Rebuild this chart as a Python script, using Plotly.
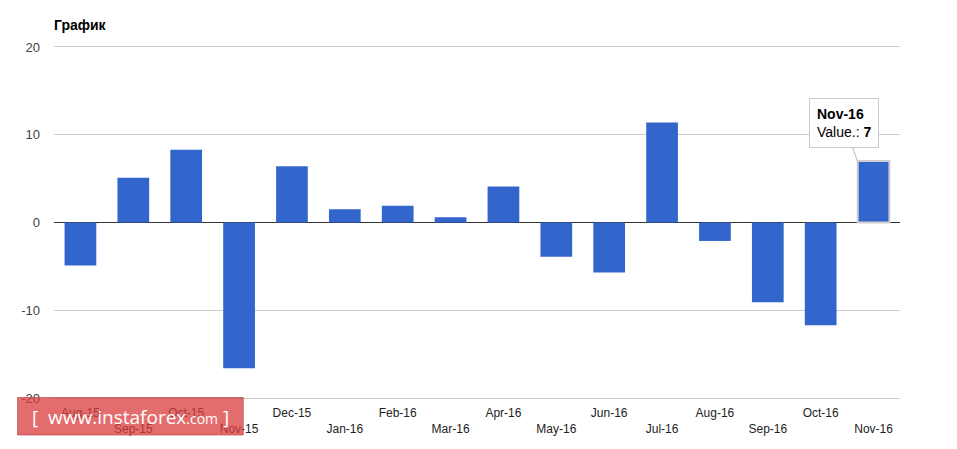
import plotly.graph_objects as go

categories = ["Aug-15", "Sep-15", "Oct-15", "Nov-15", "Dec-15", "Jan-16", "Feb-16", "Mar-16",
              "Apr-16", "May-16", "Jun-16", "Jul-16", "Aug-16", "Sep-16", "Oct-16", "Nov-16"]
values = [-4.9, 5.1, 8.3, -16.6, 6.4, 1.5, 1.9, 0.6, 4.1, -3.9, -5.7, 11.4, -2.1, -9.1, -11.7, 7]
y_ticks = [-20, -10, 0, 10, 20]

# staggered x labels (odd ones on second row)
tick_text = [c if i % 2 == 0 else "<br>" + c for i, c in enumerate(categories)]

FONT = "Arial, Liberation Sans, sans-serif"
BLUE = "#3366cc"

line_w = [0] * (len(values) - 1) + [2]
line_c = ["rgba(0,0,0,0)"] * (len(values) - 1) + ["#cfcfcf"]

fig = go.Figure(go.Bar(
    x=categories, y=values,
    marker=dict(color=BLUE, line=dict(width=line_w, color=line_c)),
    width=0.6,
))

W, H = 957, 449
L, R, T, B = 53.5, 56.5, 47, 51
pw = W - L - R
ph = H - T - B

def px_x(px):
    return (px - L) / pw

def px_y(py):
    return (H - B - py) / ph

fig.update_layout(
    width=W, height=H,
    margin=dict(l=L, r=R, t=T, b=B, pad=0),
    paper_bgcolor="white", plot_bgcolor="white",
    showlegend=False,
    font=dict(family=FONT, size=13, color="#222"),
    title=dict(text="<b>График</b>", x=0, xanchor="left", xref="paper",
               y=1 - 25 / H, yanchor="middle", yref="container",
               font=dict(family=FONT, size=14, color="#000")),
    bargap=0.4,
    xaxis=dict(
        type="category", tickmode="array", tickvals=categories, ticktext=tick_text,
        showgrid=False, ticks="", zeroline=False,
        showline=True, mirror=True, linecolor="#cccccc", linewidth=1,
        tickfont=dict(family=FONT, size=12, color="#222"),
        tickangle=0, ticklabelstandoff=4,
        range=[-0.5, len(categories) - 0.5],
    ),
    yaxis=dict(
        range=[-20, 20], tickvals=y_ticks, ticktext=[str(v) for v in y_ticks],
        showgrid=True, gridcolor="#cccccc", gridwidth=1,
        zeroline=True, zerolinecolor="#333333", zerolinewidth=1,
        ticks="", showline=False,
        tickfont=dict(family=FONT, size=13, color="#444"),
        ticklabelstandoff=13,
    ),
)

# tooltip for the highlighted last bar
fig.add_annotation(
    x=categories[-1], y=values[-1], xref="x", yref="y",
    xshift=-16,
    text="<b>%s</b><br>Value.: <b>%g</b>" % (categories[-1], values[-1]),
    showarrow=True, arrowhead=0, arrowwidth=1, arrowcolor="#bbbbbb",
    ax=-14, ay=-38,
    bgcolor="white", bordercolor="#cccccc", borderwidth=1, borderpad=7,
    align="left",
    font=dict(family=FONT, size=14, color="#000"),
)

# watermark
fig.add_shape(
    type="rect", xref="paper", yref="paper",
    x0=px_x(17), x1=px_x(243), y0=px_y(435), y1=px_y(397.5),
    fillcolor="rgba(218,60,60,0.75)", line=dict(color="rgba(170,60,60,0.6)", width=1),
    layer="above",
)
fig.add_annotation(
    xref="paper", yref="paper", x=px_x(130), y=px_y(416.5),
    xanchor="center", yanchor="middle", showarrow=False,
    text="[  www.instaforex<span style='font-size:14px'>.com</span> ]",
    font=dict(family="Open Sans, DejaVu Sans, sans-serif", size=19, color="white"),
)

fig.write_html("out.html", config={"displayModeBar": False},
               post_script="document.body.style.margin='0';")
